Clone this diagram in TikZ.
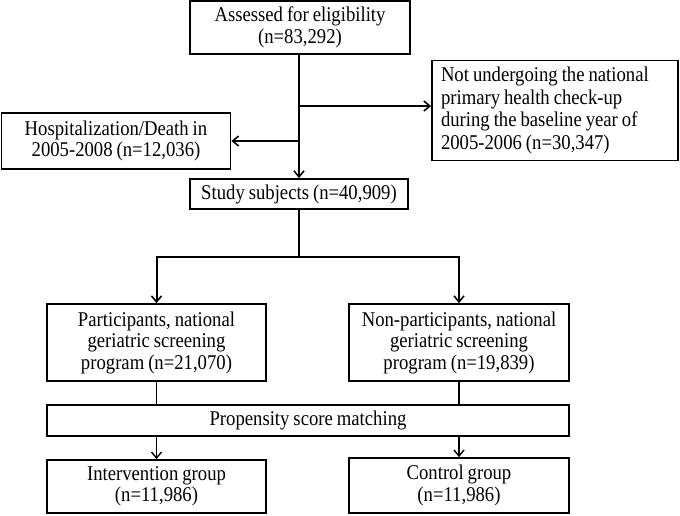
\documentclass[tikz,border=0pt]{standalone}
\usepackage{fontspec}
\setmainfont{Liberation Serif}[FakeStretch=0.89,WordSpace=0.85]
\usetikzlibrary{arrows.meta}
\begin{document}
\begin{tikzpicture}[x=1pt,y=-1pt,
  box/.style={draw,line width=1.8pt,inner sep=0pt,align=center,
    font=\fontsize{21}{21.5}\selectfont},
  conn/.style={line width=2pt},
  arr/.style={conn,-{Straight Barb[length=6pt,width=10pt,line width=1.6pt]}}]
\useasboundingbox (0,0) rectangle (680,515);
\node[box,minimum width=246pt,minimum height=100pt,align=flush left,text width=228pt,
  font=\fontsize{21}{22.5}\selectfont] (r) at (555,110.5)
  {Not undergoing the national\\primary health check-up\\during the baseline year of\\2005-2006 (n=30,347)};
\node[box,minimum width=220pt,minimum height=53pt] (a) at (300,27.5)
  {Assessed for eligibility\\(n=83,292)};
\node[box,minimum width=229pt,minimum height=56pt] (l) at (116,141)
  {Hospitalization/Death in\\2005-2008 (n=12,036)};
\node[box,minimum width=218pt,minimum height=30pt] (s) at (299,194)
  {Study subjects (n=40,909)};
\node[box,minimum width=219pt,minimum height=77pt] (p) at (156.5,342.5)
  {Participants, national\\geriatric screening\\program (n=21,070)};
\node[box,minimum width=220pt,minimum height=77pt] (np) at (459,342.5)
  {Non-participants, national\\geriatric screening\\program (n=19,839)};
\node[box,minimum width=522pt,minimum height=31pt] (psm) at (308,420.5)
  {Propensity score matching};
\node[box,minimum width=219pt,minimum height=53pt] (ig) at (156.5,486.5)
  {Intervention group\\(n=11,986)};
\node[box,minimum width=220pt,minimum height=55pt] (cg) at (459,485.5)
  {Control group\\(n=11,986)};
\coordinate (br) at (299,106);
\coordinate (bl) at (299,141);
\coordinate (sp) at (299,257);
\draw[arr] (a.south -| br) -- (s.north);
\draw[arr] (br) -- (r.west |- br);
\draw[arr] (bl) -- (l.east |- bl);
\draw[conn] (s.south) -- (sp);
\draw[arr] (sp) -| (p.north);
\draw[arr] (sp) -| (np.north);
\draw[line width=1.6pt] (p.south) -- (p.south |- psm.north);
\draw[line width=1.6pt] (np.south) -- (np.south |- psm.north);
\draw[line width=1.6pt,-{Straight Barb[length=6pt,width=10pt,line width=1.4pt]}] (psm.south -| ig.north) -- (ig.north);
\draw[line width=1.6pt,-{Straight Barb[length=6pt,width=10pt,line width=1.4pt]}] (psm.south -| cg.north) -- (cg.north);
\end{tikzpicture}
\end{document}
